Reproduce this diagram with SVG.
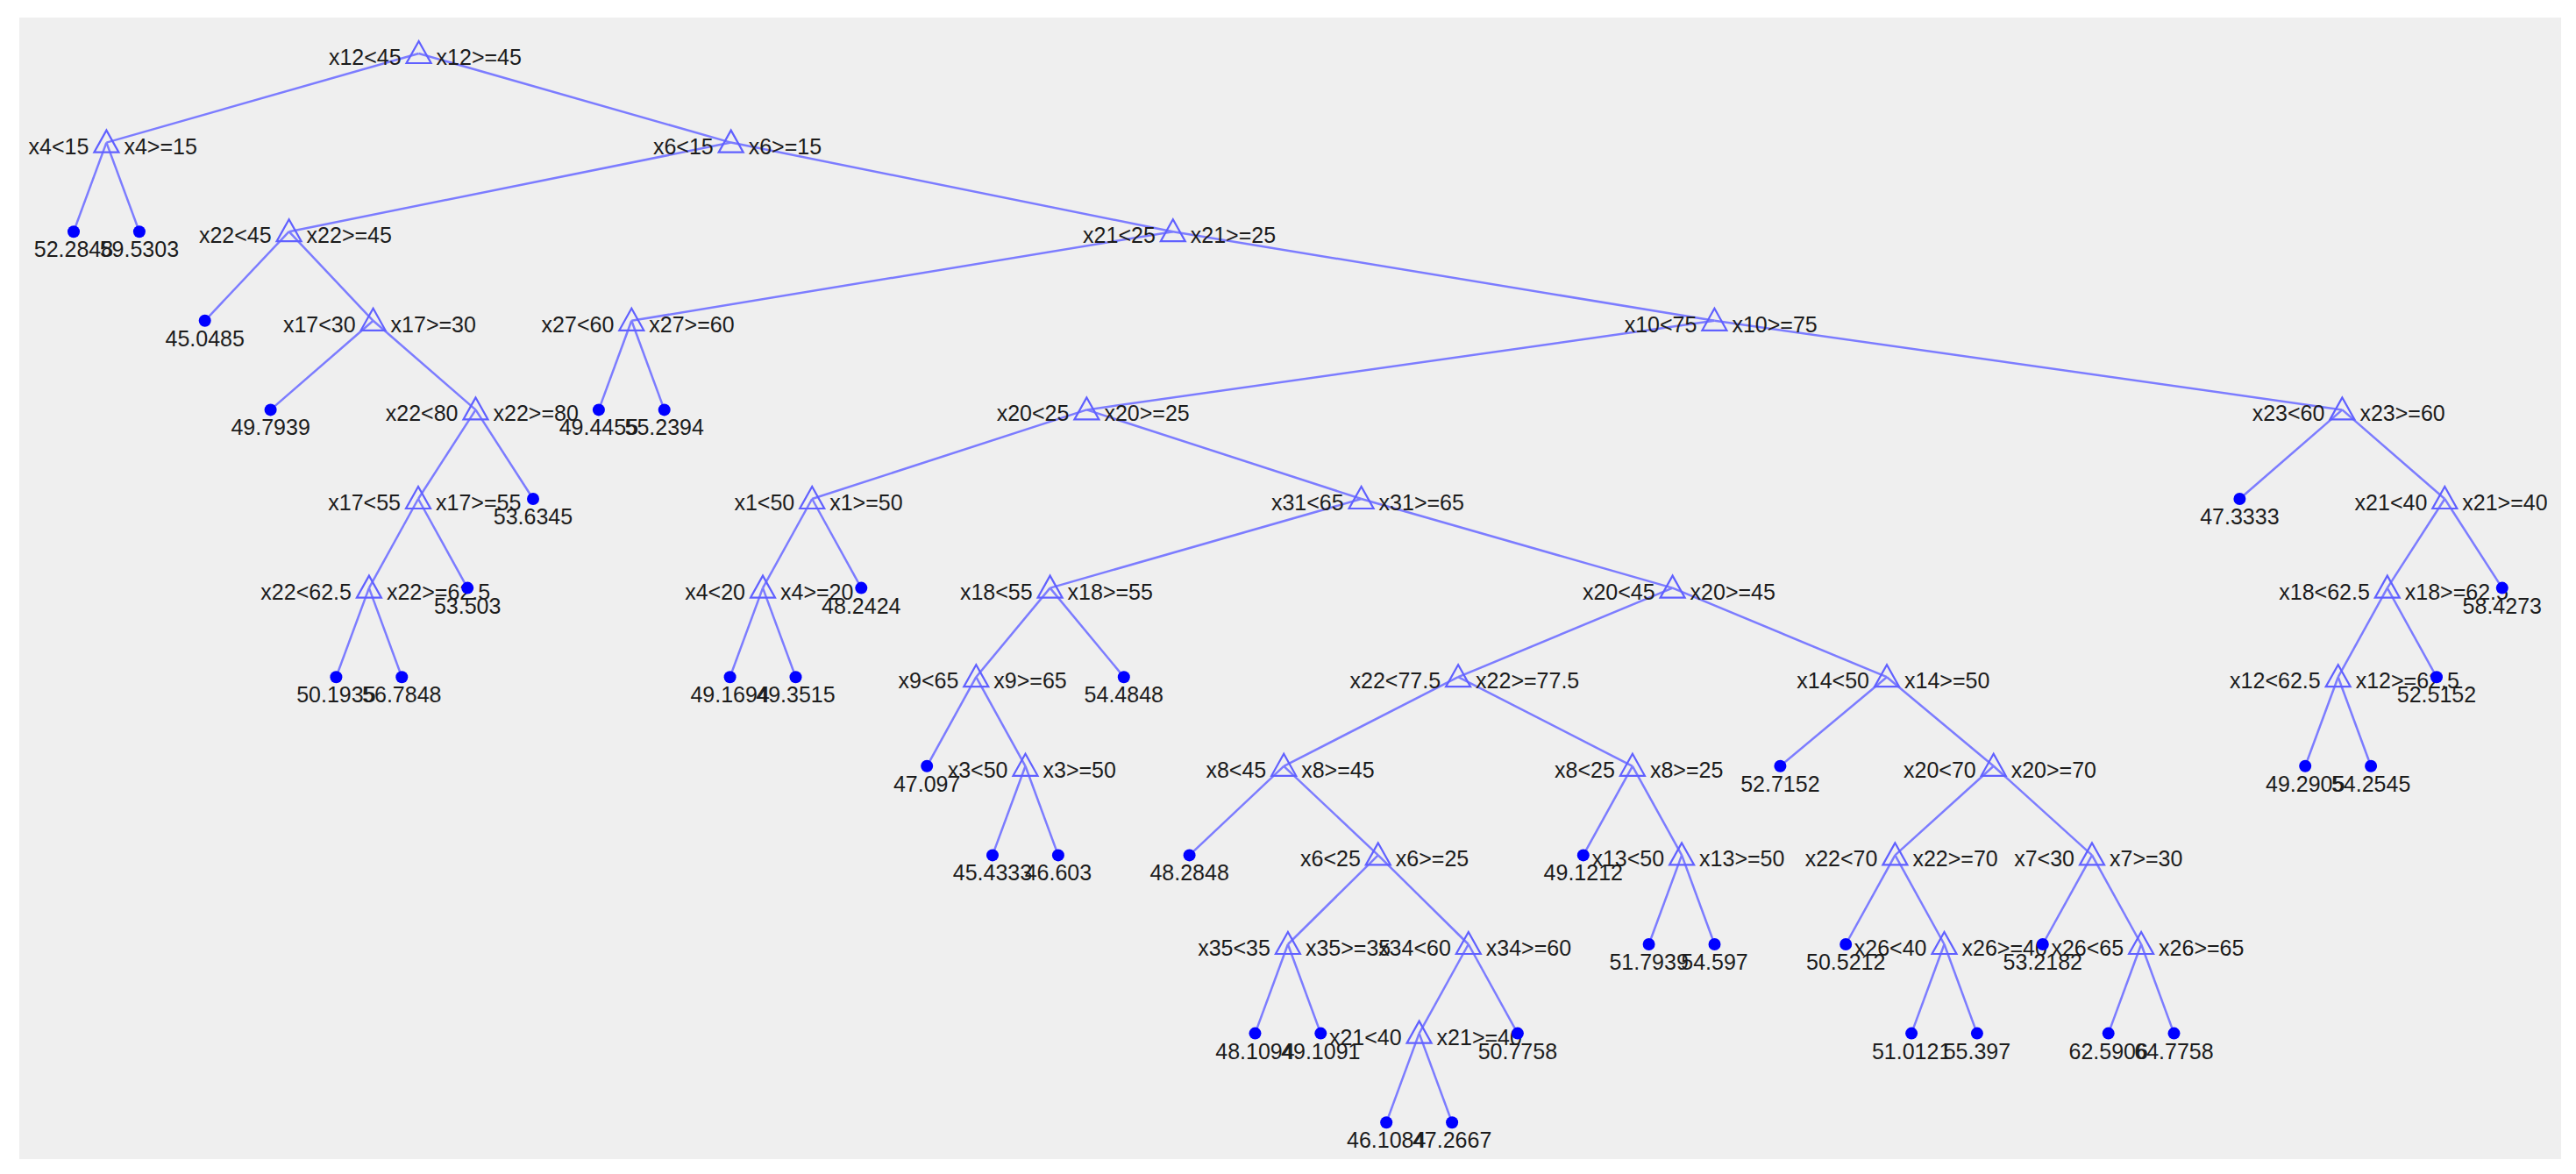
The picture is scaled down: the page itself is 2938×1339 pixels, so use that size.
<svg xmlns="http://www.w3.org/2000/svg" xmlns:xlink="http://www.w3.org/1999/xlink" width="2938" height="1339" viewBox="0 0 2938 1339">
<style>
.e{stroke:#7c7cff;stroke-width:2.5;fill:none}
.t{fill:none;stroke:#6060ff;stroke-width:2.2;stroke-linejoin:miter}
.d{fill:#0000ff}
text{font-family:"Liberation Sans",Arial,sans-serif;font-size:25px;fill:#1c1c1c}
.l{text-anchor:end}
.r{text-anchor:start}
.v{text-anchor:middle}
</style>
<defs>
<path id="tri" class="t" d="M0,-14 L-14,11 L14,11 Z"/>
</defs>
<rect x="0" y="0" width="2938" height="1339" fill="#ffffff"/>
<rect x="22" y="20" width="2899" height="1302" fill="#efefef"/>
<g id="connectors" class="e">
<line x1="477.6" y1="61" x2="121.4" y2="162.6"/>
<line x1="477.6" y1="61" x2="833.7" y2="162.6"/>
<line x1="121.4" y1="162.6" x2="84" y2="264.2"/>
<line x1="121.4" y1="162.6" x2="158.9" y2="264.2"/>
<line x1="833.7" y1="162.6" x2="329.6" y2="264.2"/>
<line x1="833.7" y1="162.6" x2="1337.8" y2="264.2"/>
<line x1="329.6" y1="264.2" x2="233.7" y2="365.8"/>
<line x1="329.6" y1="264.2" x2="425.6" y2="365.8"/>
<line x1="425.6" y1="365.8" x2="308.6" y2="467.4"/>
<line x1="425.6" y1="365.8" x2="542.5" y2="467.4"/>
<line x1="542.5" y1="467.4" x2="477" y2="569"/>
<line x1="542.5" y1="467.4" x2="608" y2="569"/>
<line x1="477" y1="569" x2="420.9" y2="670.6"/>
<line x1="477" y1="569" x2="533.2" y2="670.6"/>
<line x1="420.9" y1="670.6" x2="383.4" y2="772.2"/>
<line x1="420.9" y1="670.6" x2="458.3" y2="772.2"/>
<line x1="1337.8" y1="264.2" x2="720.3" y2="365.8"/>
<line x1="1337.8" y1="264.2" x2="1955.4" y2="365.8"/>
<line x1="720.3" y1="365.8" x2="682.9" y2="467.4"/>
<line x1="720.3" y1="365.8" x2="757.7" y2="467.4"/>
<line x1="1955.4" y1="365.8" x2="1239.4" y2="467.4"/>
<line x1="1955.4" y1="365.8" x2="2671.4" y2="467.4"/>
<line x1="1239.4" y1="467.4" x2="926.2" y2="569"/>
<line x1="1239.4" y1="467.4" x2="1552.6" y2="569"/>
<line x1="926.2" y1="569" x2="870" y2="670.6"/>
<line x1="926.2" y1="569" x2="982.3" y2="670.6"/>
<line x1="870" y1="670.6" x2="832.6" y2="772.2"/>
<line x1="870" y1="670.6" x2="907.5" y2="772.2"/>
<line x1="1552.6" y1="569" x2="1197.6" y2="670.6"/>
<line x1="1552.6" y1="569" x2="1907.6" y2="670.6"/>
<line x1="1197.6" y1="670.6" x2="1113.3" y2="772.2"/>
<line x1="1197.6" y1="670.6" x2="1281.8" y2="772.2"/>
<line x1="1113.3" y1="772.2" x2="1057.2" y2="873.8"/>
<line x1="1113.3" y1="772.2" x2="1169.5" y2="873.8"/>
<line x1="1169.5" y1="873.8" x2="1132" y2="975.4"/>
<line x1="1169.5" y1="873.8" x2="1206.9" y2="975.4"/>
<line x1="1907.6" y1="670.6" x2="1663.1" y2="772.2"/>
<line x1="1907.6" y1="670.6" x2="2152" y2="772.2"/>
<line x1="1663.1" y1="772.2" x2="1464.2" y2="873.8"/>
<line x1="1663.1" y1="772.2" x2="1861.9" y2="873.8"/>
<line x1="1464.2" y1="873.8" x2="1356.6" y2="975.4"/>
<line x1="1464.2" y1="873.8" x2="1571.8" y2="975.4"/>
<line x1="1571.8" y1="975.4" x2="1468.9" y2="1077"/>
<line x1="1571.8" y1="975.4" x2="1674.8" y2="1077"/>
<line x1="1468.9" y1="1077" x2="1431.5" y2="1178.6"/>
<line x1="1468.9" y1="1077" x2="1506.3" y2="1178.6"/>
<line x1="1674.8" y1="1077" x2="1618.6" y2="1178.6"/>
<line x1="1674.8" y1="1077" x2="1730.9" y2="1178.6"/>
<line x1="1618.6" y1="1178.6" x2="1581.2" y2="1280.2"/>
<line x1="1618.6" y1="1178.6" x2="1656.1" y2="1280.2"/>
<line x1="1861.9" y1="873.8" x2="1805.8" y2="975.4"/>
<line x1="1861.9" y1="873.8" x2="1918.1" y2="975.4"/>
<line x1="1918.1" y1="975.4" x2="1880.6" y2="1077"/>
<line x1="1918.1" y1="975.4" x2="1955.5" y2="1077"/>
<line x1="2152" y1="772.2" x2="2030.4" y2="873.8"/>
<line x1="2152" y1="772.2" x2="2273.7" y2="873.8"/>
<line x1="2273.7" y1="873.8" x2="2161.4" y2="975.4"/>
<line x1="2273.7" y1="873.8" x2="2386" y2="975.4"/>
<line x1="2161.4" y1="975.4" x2="2105.2" y2="1077"/>
<line x1="2161.4" y1="975.4" x2="2217.5" y2="1077"/>
<line x1="2217.5" y1="1077" x2="2180.1" y2="1178.6"/>
<line x1="2217.5" y1="1077" x2="2254.9" y2="1178.6"/>
<line x1="2386" y1="975.4" x2="2329.8" y2="1077"/>
<line x1="2386" y1="975.4" x2="2442.1" y2="1077"/>
<line x1="2442.1" y1="1077" x2="2404.7" y2="1178.6"/>
<line x1="2442.1" y1="1077" x2="2479.5" y2="1178.6"/>
<line x1="2671.4" y1="467.4" x2="2554.4" y2="569"/>
<line x1="2671.4" y1="467.4" x2="2788.3" y2="569"/>
<line x1="2788.3" y1="569" x2="2722.8" y2="670.6"/>
<line x1="2788.3" y1="569" x2="2853.8" y2="670.6"/>
<line x1="2722.8" y1="670.6" x2="2666.7" y2="772.2"/>
<line x1="2722.8" y1="670.6" x2="2779" y2="772.2"/>
<line x1="2666.7" y1="772.2" x2="2629.2" y2="873.8"/>
<line x1="2666.7" y1="772.2" x2="2704.1" y2="873.8"/>
</g>
<g id="nodes">
<g id="n_root" transform="translate(477.6,61)"><use xlink:href="#tri" href="#tri"/><text class="l" x="-20" y="13">x12&lt;45</text><text class="r" x="20" y="13">x12&gt;=45</text></g>
<g id="n_x4a" transform="translate(121.4,162.6)"><use href="#tri"/><text class="l" x="-20" y="13">x4&lt;15</text><text class="r" x="20" y="13">x4&gt;=15</text></g>
<g id="n_x6a" transform="translate(833.7,162.6)"><use href="#tri"/><text class="l" x="-20" y="13">x6&lt;15</text><text class="r" x="20" y="13">x6&gt;=15</text></g>
<g id="n_x22a" transform="translate(329.6,264.2)"><use href="#tri"/><text class="l" x="-20" y="13">x22&lt;45</text><text class="r" x="20" y="13">x22&gt;=45</text></g>
<g id="n_x21a" transform="translate(1337.8,264.2)"><use href="#tri"/><text class="l" x="-20" y="13">x21&lt;25</text><text class="r" x="20" y="13">x21&gt;=25</text></g>
<g id="n_x17a" transform="translate(425.6,365.8)"><use href="#tri"/><text class="l" x="-20" y="13">x17&lt;30</text><text class="r" x="20" y="13">x17&gt;=30</text></g>
<g id="n_x27" transform="translate(720.3,365.8)"><use href="#tri"/><text class="l" x="-20" y="13">x27&lt;60</text><text class="r" x="20" y="13">x27&gt;=60</text></g>
<g id="n_x10" transform="translate(1955.4,365.8)"><use href="#tri"/><text class="l" x="-20" y="13">x10&lt;75</text><text class="r" x="20" y="13">x10&gt;=75</text></g>
<g id="n_x22b" transform="translate(542.5,467.4)"><use href="#tri"/><text class="l" x="-20" y="13">x22&lt;80</text><text class="r" x="20" y="13">x22&gt;=80</text></g>
<g id="n_x20a" transform="translate(1239.4,467.4)"><use href="#tri"/><text class="l" x="-20" y="13">x20&lt;25</text><text class="r" x="20" y="13">x20&gt;=25</text></g>
<g id="n_x23" transform="translate(2671.4,467.4)"><use href="#tri"/><text class="l" x="-20" y="13">x23&lt;60</text><text class="r" x="20" y="13">x23&gt;=60</text></g>
<g id="n_x17b" transform="translate(477,569)"><use href="#tri"/><text class="l" x="-20" y="13">x17&lt;55</text><text class="r" x="20" y="13">x17&gt;=55</text></g>
<g id="n_x1" transform="translate(926.2,569)"><use href="#tri"/><text class="l" x="-20" y="13">x1&lt;50</text><text class="r" x="20" y="13">x1&gt;=50</text></g>
<g id="n_x31" transform="translate(1552.6,569)"><use href="#tri"/><text class="l" x="-20" y="13">x31&lt;65</text><text class="r" x="20" y="13">x31&gt;=65</text></g>
<g id="n_x21c" transform="translate(2788.3,569)"><use href="#tri"/><text class="l" x="-20" y="13">x21&lt;40</text><text class="r" x="20" y="13">x21&gt;=40</text></g>
<g id="n_x22c" transform="translate(420.9,670.6)"><use href="#tri"/><text class="l" x="-20" y="13">x22&lt;62.5</text><text class="r" x="20" y="13">x22&gt;=62.5</text></g>
<g id="n_x4b" transform="translate(870,670.6)"><use href="#tri"/><text class="l" x="-20" y="13">x4&lt;20</text><text class="r" x="20" y="13">x4&gt;=20</text></g>
<g id="n_x18a" transform="translate(1197.6,670.6)"><use href="#tri"/><text class="l" x="-20" y="13">x18&lt;55</text><text class="r" x="20" y="13">x18&gt;=55</text></g>
<g id="n_x20b" transform="translate(1907.6,670.6)"><use href="#tri"/><text class="l" x="-20" y="13">x20&lt;45</text><text class="r" x="20" y="13">x20&gt;=45</text></g>
<g id="n_x18b" transform="translate(2722.8,670.6)"><use href="#tri"/><text class="l" x="-20" y="13">x18&lt;62.5</text><text class="r" x="20" y="13">x18&gt;=62.5</text></g>
<g id="n_x9" transform="translate(1113.3,772.2)"><use href="#tri"/><text class="l" x="-20" y="13">x9&lt;65</text><text class="r" x="20" y="13">x9&gt;=65</text></g>
<g id="n_x22d" transform="translate(1663.1,772.2)"><use href="#tri"/><text class="l" x="-20" y="13">x22&lt;77.5</text><text class="r" x="20" y="13">x22&gt;=77.5</text></g>
<g id="n_x14" transform="translate(2152,772.2)"><use href="#tri"/><text class="l" x="-20" y="13">x14&lt;50</text><text class="r" x="20" y="13">x14&gt;=50</text></g>
<g id="n_x12b" transform="translate(2666.7,772.2)"><use href="#tri"/><text class="l" x="-20" y="13">x12&lt;62.5</text><text class="r" x="20" y="13">x12&gt;=62.5</text></g>
<g id="n_x3" transform="translate(1169.5,873.8)"><use href="#tri"/><text class="l" x="-20" y="13">x3&lt;50</text><text class="r" x="20" y="13">x3&gt;=50</text></g>
<g id="n_x8a" transform="translate(1464.2,873.8)"><use href="#tri"/><text class="l" x="-20" y="13">x8&lt;45</text><text class="r" x="20" y="13">x8&gt;=45</text></g>
<g id="n_x8b" transform="translate(1861.9,873.8)"><use href="#tri"/><text class="l" x="-20" y="13">x8&lt;25</text><text class="r" x="20" y="13">x8&gt;=25</text></g>
<g id="n_x20c" transform="translate(2273.7,873.8)"><use href="#tri"/><text class="l" x="-20" y="13">x20&lt;70</text><text class="r" x="20" y="13">x20&gt;=70</text></g>
<g id="n_x6b" transform="translate(1571.8,975.4)"><use href="#tri"/><text class="l" x="-20" y="13">x6&lt;25</text><text class="r" x="20" y="13">x6&gt;=25</text></g>
<g id="n_x13" transform="translate(1918.1,975.4)"><use href="#tri"/><text class="l" x="-20" y="13">x13&lt;50</text><text class="r" x="20" y="13">x13&gt;=50</text></g>
<g id="n_x22e" transform="translate(2161.4,975.4)"><use href="#tri"/><text class="l" x="-20" y="13">x22&lt;70</text><text class="r" x="20" y="13">x22&gt;=70</text></g>
<g id="n_x7" transform="translate(2386,975.4)"><use href="#tri"/><text class="l" x="-20" y="13">x7&lt;30</text><text class="r" x="20" y="13">x7&gt;=30</text></g>
<g id="n_x35" transform="translate(1468.9,1077)"><use href="#tri"/><text class="l" x="-20" y="13">x35&lt;35</text><text class="r" x="20" y="13">x35&gt;=35</text></g>
<g id="n_x34" transform="translate(1674.8,1077)"><use href="#tri"/><text class="l" x="-20" y="13">x34&lt;60</text><text class="r" x="20" y="13">x34&gt;=60</text></g>
<g id="n_x26a" transform="translate(2217.5,1077)"><use href="#tri"/><text class="l" x="-20" y="13">x26&lt;40</text><text class="r" x="20" y="13">x26&gt;=40</text></g>
<g id="n_x26b" transform="translate(2442.1,1077)"><use href="#tri"/><text class="l" x="-20" y="13">x26&lt;65</text><text class="r" x="20" y="13">x26&gt;=65</text></g>
<g id="n_x21b" transform="translate(1618.6,1178.6)"><use href="#tri"/><text class="l" x="-20" y="13">x21&lt;40</text><text class="r" x="20" y="13">x21&gt;=40</text></g>
</g>
<g id="leaves">
<g id="leaf1" transform="translate(84,264.2)"><circle class="d" r="7"/><text class="v" y="29">52.2848</text></g>
<g id="leaf2" transform="translate(158.9,264.2)"><circle class="d" r="7"/><text class="v" y="29">59.5303</text></g>
<g id="leaf3" transform="translate(233.7,365.8)"><circle class="d" r="7"/><text class="v" y="29">45.0485</text></g>
<g id="leaf4" transform="translate(308.6,467.4)"><circle class="d" r="7"/><text class="v" y="29">49.7939</text></g>
<g id="leaf5" transform="translate(383.4,772.2)"><circle class="d" r="7"/><text class="v" y="29">50.1935</text></g>
<g id="leaf6" transform="translate(458.3,772.2)"><circle class="d" r="7"/><text class="v" y="29">56.7848</text></g>
<g id="leaf7" transform="translate(533.2,670.6)"><circle class="d" r="7"/><text class="v" y="29">53.503</text></g>
<g id="leaf8" transform="translate(608,569)"><circle class="d" r="7"/><text class="v" y="29">53.6345</text></g>
<g id="leaf9" transform="translate(682.9,467.4)"><circle class="d" r="7"/><text class="v" y="29">49.4455</text></g>
<g id="leaf10" transform="translate(757.7,467.4)"><circle class="d" r="7"/><text class="v" y="29">55.2394</text></g>
<g id="leaf11" transform="translate(832.6,772.2)"><circle class="d" r="7"/><text class="v" y="29">49.1694</text></g>
<g id="leaf12" transform="translate(907.5,772.2)"><circle class="d" r="7"/><text class="v" y="29">49.3515</text></g>
<g id="leaf13" transform="translate(982.3,670.6)"><circle class="d" r="7"/><text class="v" y="29">48.2424</text></g>
<g id="leaf14" transform="translate(1057.2,873.8)"><circle class="d" r="7"/><text class="v" y="29">47.097</text></g>
<g id="leaf15" transform="translate(1132,975.4)"><circle class="d" r="7"/><text class="v" y="29">45.4333</text></g>
<g id="leaf16" transform="translate(1206.9,975.4)"><circle class="d" r="7"/><text class="v" y="29">46.603</text></g>
<g id="leaf17" transform="translate(1281.8,772.2)"><circle class="d" r="7"/><text class="v" y="29">54.4848</text></g>
<g id="leaf18" transform="translate(1356.6,975.4)"><circle class="d" r="7"/><text class="v" y="29">48.2848</text></g>
<g id="leaf19" transform="translate(1431.5,1178.6)"><circle class="d" r="7"/><text class="v" y="29">48.1094</text></g>
<g id="leaf20" transform="translate(1506.3,1178.6)"><circle class="d" r="7"/><text class="v" y="29">49.1091</text></g>
<g id="leaf21" transform="translate(1581.2,1280.2)"><circle class="d" r="7"/><text class="v" y="29">46.1084</text></g>
<g id="leaf22" transform="translate(1656.1,1280.2)"><circle class="d" r="7"/><text class="v" y="29">47.2667</text></g>
<g id="leaf23" transform="translate(1730.9,1178.6)"><circle class="d" r="7"/><text class="v" y="29">50.7758</text></g>
<g id="leaf24" transform="translate(1805.8,975.4)"><circle class="d" r="7"/><text class="v" y="29">49.1212</text></g>
<g id="leaf25" transform="translate(1880.6,1077)"><circle class="d" r="7"/><text class="v" y="29">51.7939</text></g>
<g id="leaf26" transform="translate(1955.5,1077)"><circle class="d" r="7"/><text class="v" y="29">54.597</text></g>
<g id="leaf27" transform="translate(2030.4,873.8)"><circle class="d" r="7"/><text class="v" y="29">52.7152</text></g>
<g id="leaf28" transform="translate(2105.2,1077)"><circle class="d" r="7"/><text class="v" y="29">50.5212</text></g>
<g id="leaf29" transform="translate(2180.1,1178.6)"><circle class="d" r="7"/><text class="v" y="29">51.0121</text></g>
<g id="leaf30" transform="translate(2254.9,1178.6)"><circle class="d" r="7"/><text class="v" y="29">55.397</text></g>
<g id="leaf31" transform="translate(2329.8,1077)"><circle class="d" r="7"/><text class="v" y="29">53.2182</text></g>
<g id="leaf32" transform="translate(2404.7,1178.6)"><circle class="d" r="7"/><text class="v" y="29">62.5906</text></g>
<g id="leaf33" transform="translate(2479.5,1178.6)"><circle class="d" r="7"/><text class="v" y="29">64.7758</text></g>
<g id="leaf34" transform="translate(2554.4,569)"><circle class="d" r="7"/><text class="v" y="29">47.3333</text></g>
<g id="leaf35" transform="translate(2629.2,873.8)"><circle class="d" r="7"/><text class="v" y="29">49.2905</text></g>
<g id="leaf36" transform="translate(2704.1,873.8)"><circle class="d" r="7"/><text class="v" y="29">54.2545</text></g>
<g id="leaf37" transform="translate(2779,772.2)"><circle class="d" r="7"/><text class="v" y="29">52.5152</text></g>
<g id="leaf38" transform="translate(2853.8,670.6)"><circle class="d" r="7"/><text class="v" y="29">58.4273</text></g>
</g>
</svg>
